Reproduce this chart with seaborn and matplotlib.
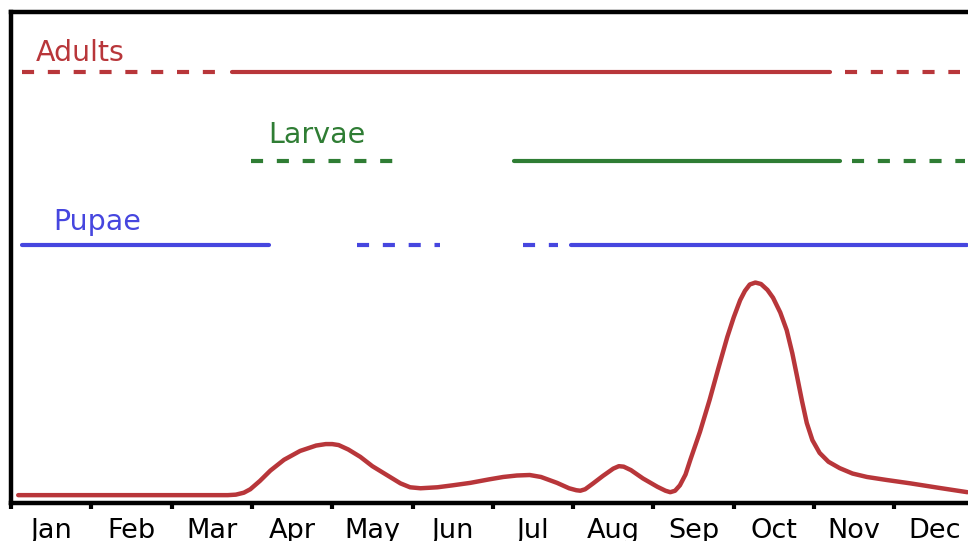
import matplotlib
matplotlib.use("Agg")
import matplotlib.pyplot as plt
import seaborn as sns

# Dane: miesiace i etapy rozwoju
miesiace = ["Jan", "Feb", "Mar", "Apr", "May", "Jun",
            "Jul", "Aug", "Sep", "Oct", "Nov", "Dec"]

# Odcinki etapow: poczatek, koniec (w miesiacach), czy linia ciagla
adults_start = [0.14, 2.75, 10.39]
adults_end = [2.54, 10.20, 11.82]
adults_solid = [False, True, False]
adults_level = 87.8

larvae_start = [2.99, 6.26, 10.47]
larvae_end = [4.84, 10.32, 11.88]
larvae_solid = [False, True, False]
larvae_level = 69.7

pupae_start = [0.14, 4.31, 6.38, 6.97]
pupae_end = [3.21, 5.34, 6.81, 11.90]
pupae_solid = [True, False, False, True]
pupae_level = 52.5

# Krzywa liczebnosci
krzywa_x = [0.09, 1.0, 2.0, 2.70, 2.80, 2.90, 2.98, 3.1, 3.23, 3.4, 3.6,
            3.8, 3.92, 4.0, 4.08, 4.2, 4.35, 4.5, 4.68, 4.85, 4.97, 5.1,
            5.31, 5.5, 5.72, 5.95, 6.13, 6.3, 6.46, 6.6, 6.8, 6.95, 7.04,
            7.09, 7.15, 7.25, 7.37, 7.5, 7.57, 7.63, 7.72, 7.87, 8.05, 8.15,
            8.21, 8.27, 8.33, 8.40, 8.46, 8.58, 8.70, 8.81, 8.92, 9.0, 9.08,
            9.14, 9.20, 9.27, 9.34, 9.42, 9.49, 9.58, 9.66, 9.73, 9.79, 9.85,
            9.91, 9.98, 10.07, 10.18, 10.32, 10.48, 10.66, 10.9, 11.2, 11.55,
            11.91]
krzywa_y = [1.6, 1.6, 1.6, 1.6, 1.7, 2.1, 2.8, 4.5, 6.6, 8.8, 10.6,
            11.7, 12.0, 12.0, 11.8, 10.9, 9.4, 7.5, 5.7, 4.0, 3.2, 3.0,
            3.2, 3.6, 4.1, 4.8, 5.3, 5.6, 5.7, 5.3, 4.1, 3.0, 2.6,
            2.5, 2.8, 4.0, 5.5, 7.0, 7.5, 7.4, 6.7, 5.0, 3.3, 2.5,
            2.2, 2.5, 3.6, 5.8, 8.8, 14.5, 21.0, 27.5, 33.8, 37.8, 41.3,
            43.2, 44.5, 44.9, 44.6, 43.4, 41.8, 38.8, 35.2, 30.5, 25.7, 20.8,
            16.3, 12.8, 10.2, 8.4, 7.1, 6.0, 5.3, 4.7, 4.0, 3.1,
            2.2]

czerwony = "#b8363a"
zielony = "#2f7d34"
niebieski = "#4646df"

sns.set_style("white")
plt.rcParams["font.family"] = ["DejaVu Sans"]

fig = plt.figure(figsize=(9.68, 5.41), dpi=100)
ax = fig.add_axes([11 / 968, 38 / 541, 963.6 / 968, 491 / 541])


def rysuj_etap(starty, konce, ciagle, poziom, kolor):
    for s, e, c in zip(starty, konce, ciagle):
        sns.lineplot(x=[s, e], y=[poziom, poziom], ax=ax, color=kolor,
                     linewidth=3, linestyle="-" if c else (0, (2.9, 3.3)))


rysuj_etap(adults_start, adults_end, adults_solid, adults_level, czerwony)
rysuj_etap(larvae_start, larvae_end, larvae_solid, larvae_level, zielony)
rysuj_etap(pupae_start, pupae_end, pupae_solid, pupae_level, niebieski)

sns.lineplot(x=krzywa_x, y=krzywa_y, ax=ax, color=czerwony, linewidth=3.2,
             solid_joinstyle="round", solid_capstyle="round")

ax.text(0.31, 90.0, "Adults", color=czerwony, fontsize=20.5, va="baseline")
ax.text(3.20, 73.3, "Larvae", color=zielony, fontsize=20.5, va="baseline")
ax.text(0.52, 55.6, "Pupae", color=niebieski, fontsize=20.5, va="baseline")

ax.set_xlim(0, 12)
ax.set_ylim(0, 100)
ax.set_yticks([])
ax.set_xticks(range(13))
ax.set_xticklabels([])
ax.set_xticks([i + 0.5 for i in range(12)], minor=True)
ax.set_xticklabels(miesiace, minor=True)
ax.tick_params(axis="x", which="major", direction="out", length=4,
               width=3, color="black", bottom=True)
ax.tick_params(axis="x", which="minor", length=0, pad=10.5, labelsize=19.5,
               labelcolor="black")
for sp in ax.spines.values():
    sp.set_linewidth(3.2)
    sp.set_color("black")
ax.set_xlabel("")
ax.set_ylabel("")

fig.savefig("out.png", dpi=100)
